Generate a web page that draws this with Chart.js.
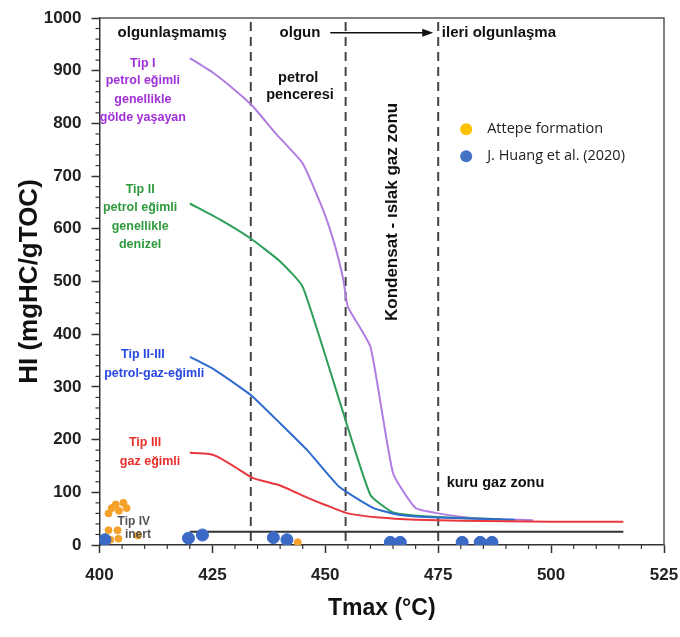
<!DOCTYPE html>
<html>
<head>
<meta charset="utf-8">
<script src="https://cdn.jsdelivr.net/npm/chart.js@4.4.1/dist/chart.umd.min.js"></script>
<style>
  body { margin: 0; background: #fff; }
  #wrap { width: 680px; height: 637px; }
</style>
</head>
<body>
<div id="wrap"><canvas id="hiChart"></canvas></div>
<script>
// axis ticks
const xTicks = [400, 425, 450, 475, 500, 525];
const yTicks = [0, 100, 200, 300, 400, 500, 600, 700, 800, 900, 1000];

// maturity zone boundaries (Tmax)
const zoneLines = [433.5, 454.5, 475];

// kerogen type curves
const tipI_x = [420, 425, 430, 434, 439, 445, 449.5, 452, 454, 455, 460, 465, 470, 475, 483, 496];
const tipI_y = [924, 897, 863, 832, 781, 724, 636, 572, 503, 452, 376, 136, 70, 60, 51, 47];

const tipII_x = [420, 427, 433.4, 440, 445, 454, 460, 465, 475, 489];
const tipII_y = [648, 616, 582, 538, 490, 250, 95, 62, 53, 49];

const tipIIIII_x = [420, 425, 431, 434, 440, 446, 453, 460.7, 466.6, 475, 492];
const tipIIIII_y = [357, 335, 300, 281, 231, 180, 111, 70, 57, 52, 48];

const tipIII_x = [420, 424, 426, 430, 434, 440, 446, 450, 455, 462, 470, 480, 500, 516];
const tipIII_y = [175, 173, 168, 148, 127, 113, 90, 76, 60, 52, 48, 46, 44, 44];

const tipIV_x = [420, 516];
const tipIV_y = [25, 25];

// samples
const attepeTmax = [402, 402.7, 403.6, 404.3, 405.3, 406, 402, 404, 402.4, 404.2, 408.5, 443.9];
const attepeHI = [60, 70, 77, 65, 80, 70, 28, 28, 10, 12, 18, 5];

const huangTmax = [401.2, 419.7, 422.8, 438.5, 441.5, 464.4, 466.6, 480.3, 484.3, 486.9];
const huangHI = [10, 13, 19, 14, 10, 5, 5, 5, 5, 5];

function pts(xs, ys) {
  return xs.map((x, i) => ({ x: x, y: ys[i] }));
}

function curve(label, xs, ys, color, order) {
  return {
    label: label,
    data: pts(xs, ys),
    showLine: true,
    borderColor: color,
    backgroundColor: color,
    borderWidth: 2,
    pointRadius: 0,
    tension: 0.15,
    order: order
  };
}

const BOLD = '"Liberation Sans", Arial, sans-serif';

const decor = {
  id: 'decor',
  beforeDatasetsDraw(chart) {
    const c = chart.ctx, a = chart.chartArea, xs = chart.scales.x;
    c.save();
    // frame top / right
    c.strokeStyle = '#555';
    c.lineWidth = 1.5;
    c.beginPath();
    c.moveTo(a.left, a.top);
    c.lineTo(a.right, a.top);
    c.lineTo(a.right, a.bottom);
    c.stroke();
    // zone boundaries
    c.strokeStyle = '#444';
    c.lineWidth = 2;
    c.setLineDash([9, 6]);
    zoneLines.forEach(v => {
      const px = xs.getPixelForValue(v);
      c.beginPath();
      c.moveTo(px, a.top + 4);
      c.lineTo(px, a.bottom);
      c.stroke();
    });
    c.restore();
  },
  afterDraw(chart) {
    const c = chart.ctx, a = chart.chartArea;
    const xs = chart.scales.x, ys = chart.scales.y;
    const X = v => xs.getPixelForValue(v), Y = v => ys.getPixelForValue(v);
    c.save();

    // minor ticks
    c.strokeStyle = '#333';
    c.lineWidth = 1.2;
    for (let v = 405; v < 525; v += 5) {
      if (v % 25 === 0) continue;
      c.beginPath();
      c.moveTo(X(v), a.bottom);
      c.lineTo(X(v), a.bottom + 4);
      c.stroke();
    }
    for (let v = 20; v < 1000; v += 20) {
      if (v % 100 === 0) continue;
      c.beginPath();
      c.moveTo(a.left, Y(v));
      c.lineTo(a.left - 4, Y(v));
      c.stroke();
    }

    function t(s, x, y, size, color, align, weight) {
      c.font = (weight || 'bold') + ' ' + size + 'px ' + BOLD;
      c.fillStyle = color;
      c.textAlign = align || 'center';
      c.textBaseline = 'middle';
      c.fillText(s, X(x), Y(y));
    }

    // top zone names
    t('olgunlaşmamış', 416.1, 972, 15, '#111');
    t('olgun', 444.4, 972, 15, '#111');
    t('ileri olgunlaşma', 475.8, 972, 15, '#111', 'left');
    // arrow
    const ax0 = X(451.1), ax1 = X(473.9), ay = Y(972);
    c.strokeStyle = '#111';
    c.fillStyle = '#111';
    c.lineWidth = 1.5;
    c.beginPath();
    c.moveTo(ax0, ay);
    c.lineTo(ax1 - 8, ay);
    c.stroke();
    c.beginPath();
    c.moveTo(ax1, ay);
    c.lineTo(ax1 - 11, ay - 4);
    c.lineTo(ax1 - 11, ay + 4);
    c.closePath();
    c.fill();

    t('petrol', 444, 886, 14.5, '#111');
    t('penceresi', 444.4, 854, 14.5, '#111');
    t('kuru gaz zonu', 476.9, 117.6, 14.5, '#111', 'left');

    // rotated zone label
    c.save();
    c.translate(X(464.8), Y(632));
    c.rotate(-Math.PI / 2);
    c.font = 'bold 17px ' + BOLD;
    c.fillStyle = '#111';
    c.textAlign = 'center';
    c.textBaseline = 'middle';
    c.fillText('Kondensat - ıslak gaz zonu', 0, 0);
    c.restore();

    // kerogen type labels
    const purple = '#A030D8', green = '#2E9A3E', blue = '#2848E0', red = '#E8302A';
    t('Tip I', 409.6, 914, 12.5, purple);
    t('petrol eğimli', 409.6, 880.5, 12.5, purple);
    t('genellikle', 409.6, 846, 12.5, purple);
    t('gölde yaşayan', 409.6, 811, 12.5, purple);

    t('Tip II', 409.0, 673.6, 12.5, green);
    t('petrol eğimli', 409.0, 640, 12.5, green);
    t('genellikle', 409.0, 605, 12.5, green);
    t('denizel', 409.0, 570, 12.5, green);

    t('Tip II-III', 409.6, 360.5, 12.5, blue);
    t('petrol-gaz-eğimli', 412.1, 325.8, 12.5, blue);

    t('Tip III', 410.1, 193.5, 12.5, red);
    t('gaz eğimli', 411.2, 157.5, 12.5, red);

    t('Tip IV', 407.6, 44.2, 12, '#555');
    t('inert', 408.5, 19, 12, '#555');

    // legend
    const lx = X(481.2), ly = Y(789);
    const items = [
      ['Attepe formation', '#FFC000'],
      ['J. Huang et al. (2020)', '#4472C4']
    ];
    items.forEach((it, i) => {
      const yy = ly + i * 27;
      c.beginPath();
      c.fillStyle = it[1];
      c.arc(lx, yy, 6, 0, Math.PI * 2);
      c.fill();
      c.font = '14.5px "Open Sans", sans-serif';
      c.fillStyle = '#222';
      c.textAlign = 'left';
      c.textBaseline = 'middle';
      c.fillText(it[0], lx + 21, yy);
    });

    c.restore();
  }
};

const tickFont = { family: BOLD, size: 17, weight: 'bold' };

new Chart(document.getElementById('hiChart'), {
  type: 'scatter',
  data: {
    datasets: [
      {
        label: 'J. Huang et al. (2020)',
        data: pts(huangTmax, huangHI),
        backgroundColor: '#3B6AC6',
        borderColor: '#3B6AC6',
        pointRadius: 6,
        order: 0
      },
      {
        label: 'Attepe formation',
        data: pts(attepeTmax, attepeHI),
        backgroundColor: '#F5A028',
        borderColor: '#F5A028',
        pointRadius: 3.5,
        order: 1
      },
      curve('Tip IV', tipIV_x, tipIV_y, '#333', 2),
      curve('Tip III', tipIII_x, tipIII_y, '#E8383D', 3),
      curve('Tip II-III', tipIIIII_x, tipIIIII_y, '#2F6BCF', 4),
      curve('Tip II', tipII_x, tipII_y, '#2E9E5B', 5),
      curve('Tip I', tipI_x, tipI_y, '#B07CE0', 6)
    ]
  },
  options: {
    responsive: true,
    maintainAspectRatio: false,
    animation: false,
    layout: { padding: { top: 18, right: 16, left: 0, bottom: 0 } },
    plugins: {
      legend: { display: false },
      tooltip: { enabled: false }
    },
    scales: {
      x: {
        type: 'linear',
        min: 400,
        max: 525,
        afterBuildTicks: s => { s.ticks = xTicks.map(v => ({ value: v })); },
        ticks: { font: tickFont, color: '#222', padding: 12, maxRotation: 0, callback: v => String(v) },
        grid: { drawOnChartArea: false, tickLength: 8, tickColor: '#333', tickWidth: 1.5 },
        border: { color: '#333', width: 1.5 },
        title: {
          display: true,
          text: 'Tmax (°C)',
          font: { family: BOLD, size: 23, weight: 'bold' },
          color: '#111',
          padding: { top: 0, bottom: 15 }
        },
        afterFit: s => { s.height = 92; s.paddingLeft = 0; s.paddingRight = 0; }
      },
      y: {
        type: 'linear',
        min: 0,
        max: 1000,
        afterBuildTicks: s => { s.ticks = yTicks.map(v => ({ value: v })); },
        ticks: { font: tickFont, color: '#222', padding: 10, callback: v => String(v) },
        grid: { drawOnChartArea: false, tickLength: 8, tickColor: '#333', tickWidth: 1.5 },
        border: { color: '#333', width: 1.5 },
        title: {
          display: true,
          text: 'HI (mgHC/gTOC)',
          font: { family: BOLD, size: 26, weight: 'bold' },
          color: '#111',
          padding: { top: 14, bottom: 0 }
        },
        afterFit: s => { s.width = 99.5; s.paddingTop = 0; s.paddingBottom = 0; }
      }
    }
  },
  plugins: [decor]
});
</script>
</body>
</html>
